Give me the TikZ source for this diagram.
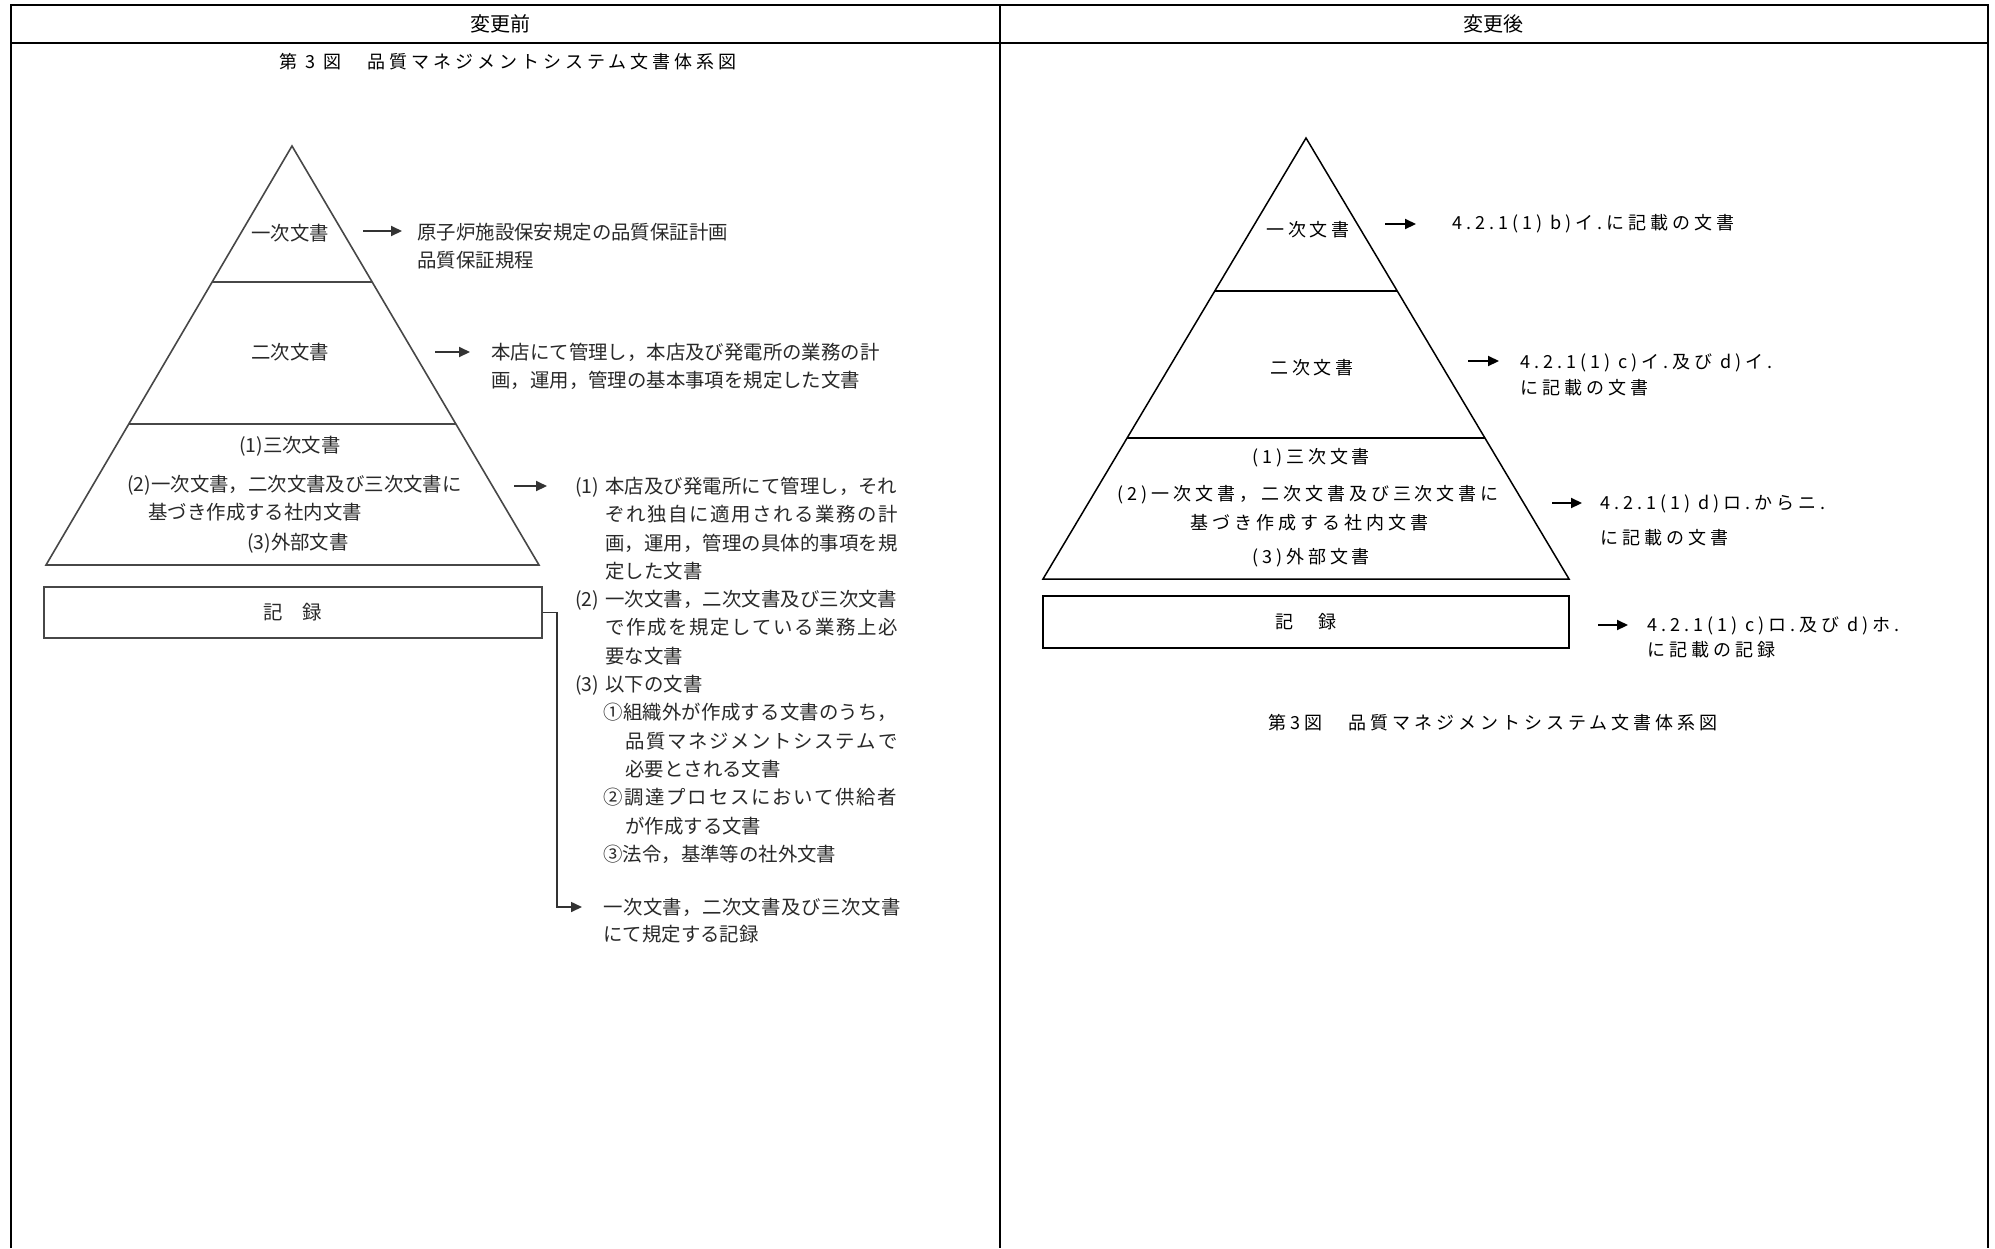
\documentclass[tikz,border=0pt]{standalone}
\usepackage{fontspec}
\usetikzlibrary{arrows.meta,calc}
\newfontfamily\jp{Noto Sans CJK JP}
\newfontfamily\jpls[LetterSpace=22]{Noto Sans CJK JP}
\colorlet{lg}{black!84}
\newcommand\twol[3]{\vtop{\baselineskip=#1\lineskiplimit=-20pt\hbox{#2}\hbox{#3}}}
\newcommand\jsetup{\parindent=0pt\parskip=0pt\XeTeXlinebreaklocale "ja"\XeTeXlinebreakskip=0pt plus 8pt\relax\tolerance=10000\rightskip=0pt\leftskip=0pt}
\begin{document}
\begin{tikzpicture}[x=0.5pt,y=-0.5pt,
  frame/.style={line width=1pt, black},
  lline/.style={line width=0.8pt, black!72},
  rline/.style={line width=0.75pt, black},
  ltxt/.style={inner sep=0pt, text=lg, font={\jp\fontsize{9.7}{14.15}\selectfont}},
  rtxt/.style={inner sep=0pt, font={\jpls\fontsize{9}{13}\selectfont}},
  htxt/.style={inner sep=0pt, font={\jp\fontsize{10}{12}\selectfont}},
  larr/.style={line width=1pt, black!80, -{Triangle[length=5.5pt,width=5pt]}},
  rarr/.style={line width=1pt, black, -{Triangle[length=5.5pt,width=5pt]}},
]
\fill[white] (0,0) rectangle (1995,1248);
\useasboundingbox (0,0) rectangle (1995,1248);
% table frame
\draw[frame] (10.7,1248) -- (10.7,5.3) -- (1987.7,5.3) -- (1987.7,1248);
\draw[frame] (10.7,43.3) -- (1987.7,43.3);
\draw[frame] (1000,5.3) -- (1000,1248);
\node[htxt] (h1) at (500,24) {変更前};
\node[htxt] (h2) at (1493,24) {変更後};

% ---------- left panel ----------
\node[rtxt] (lcap) at (508,62) {第 3 図　品質マネジメントシステム文書体系図};
\coordinate (LA) at (292,146);
\coordinate (LBL) at (46,565);
\coordinate (LBR) at (539,565);
\draw[lline] (LA) -- (LBL) -- (LBR) -- cycle;
\draw[lline] ($(LA)!0.3246!(LBL)$) -- ($(LA)!0.3246!(LBR)$);
\draw[lline] ($(LA)!0.6635!(LBL)$) -- ($(LA)!0.6635!(LBR)$);
\node[ltxt] (l1) at (290,233) {一次文書};
\node[ltxt] (l2) at (290,352) {二次文書};
\node[ltxt] (l3a) at (290,446) {(1)三次文書};
\node[ltxt, anchor=west] (l3b) at (127,485) {(2)一次文書，二次文書及び三次文書に};
\node[ltxt, anchor=west] (l3c) at (148,512) {基づき作成する社内文書};
\node[ltxt] (l3d) at (298,543) {(3)外部文書};
\node[ltxt, draw=black!72, line width=0.8pt, minimum width=249pt, minimum height=25.5pt] (lrec) at (293,612.5) {記　録};

\node[ltxt, anchor=base west] (ld1) at (417,239.4) {\twol{14pt}{原子炉施設保安規定の品質保証計画}{品質保証規程}};
\node[ltxt, anchor=base west] (ld2) at (491,359.4) {\twol{14pt}{本店にて管理し，本店及び発電所の業務の計}{画，運用，管理の基本事項を規定した文書}};
\node[ltxt, anchor=base west] (ld3) at (575,493.4) {\vtop{\hsize=161pt\jsetup
\hangindent=15pt\hangafter=1 \makebox[15pt][l]{(1)}本店及び発電所にて管理し，それ\linebreak ぞれ独自に適用される業務の計\linebreak 画，運用，管理の具体的事項を規\linebreak 定した文書\par
\hangindent=15pt\hangafter=1 \makebox[15pt][l]{(2)}一次文書，二次文書及び三次文書\linebreak で作成を規定している業務上必\linebreak 要な文書\par
\makebox[15pt][l]{(3)}以下の文書\par
\leftskip=14pt\hangindent=11pt\hangafter=1 ①組織外が作成する文書のうち，\linebreak 品質マネジメントシステムで\linebreak 必要とされる文書\par
\hangindent=11pt\hangafter=1 ②調達プロセスにおいて供給者\linebreak が作成する文書\par
③法令，基準等の社外文書\par}};
\node[ltxt, anchor=base west] (ld4) at (603,914.4) {\vtop{\hsize=148.5pt\jsetup\baselineskip=13.5pt
一次文書，二次文書及び三次文書\linebreak にて規定する記録\par}};

\coordinate (la1s) at (363,231); \coordinate (la1e) at (402,231);
\coordinate (la2s) at (435,352); \coordinate (la2e) at (470,352);
\coordinate (la3s) at (514,486); \coordinate (la3e) at (547,486);
\coordinate (lbend) at (557,907); \coordinate (la4e) at (582,907);
\draw[larr] (la1s) -- (la1e);
\draw[larr] (la2s) -- (la2e);
\draw[larr] (la3s) -- (la3e);
\draw[larr, line width=0.8pt] (lrec.east) -| (lbend) -- (la4e);

% ---------- right panel ----------
\coordinate (RA) at (1306,138);
\coordinate (RBL) at (1043,579);
\coordinate (RBR) at (1569,579);
\draw[rline] (RA) -- (RBL) -- (RBR) -- cycle;
\draw[rline] ($(RA)!0.3469!(RBL)$) -- ($(RA)!0.3469!(RBR)$);
\draw[rline] ($(RA)!0.6803!(RBL)$) -- ($(RA)!0.6803!(RBR)$);
\node[rtxt] (r1) at (1308,230) {一次文書};
\node[rtxt] (r2) at (1312,368) {二次文書};
\node[rtxt] (r3a) at (1311,458) {(1)三次文書};
\node[rtxt, anchor=west] (r3b) at (1117,495) {(2)一次文書，二次文書及び三次文書に};
\node[rtxt, anchor=west] (r3c) at (1190,523) {基づき作成する社内文書};
\node[rtxt] (r3d) at (1311,558) {(3)外部文書};
\node[rtxt, draw, line width=1pt, minimum width=263pt, minimum height=26pt] (rrec) at (1306,622) {記　録};

\node[rtxt, anchor=west] (rd1) at (1452,224) {4.2.1(1) b)イ.に記載の文書};
\node[rtxt, anchor=base west] (rd2) at (1520,368.8) {\twol{13pt}{4.2.1(1) c)イ.及び d)イ.}{に記載の文書}};
\node[rtxt, anchor=base west] (rd3) at (1600,509.8) {\twol{17.5pt}{4.2.1(1) d)ロ.からニ.}{に記載の文書}};
\node[rtxt, anchor=base west] (rd4) at (1647,631.8) {\twol{12.5pt}{4.2.1(1) c)ロ.及び d)ホ.}{に記載の記録}};
\node[rtxt] (rcap) at (1493,723) {第3図　品質マネジメントシステム文書体系図};

\coordinate (ra1s) at (1385,224); \coordinate (ra1e) at (1416,224);
\coordinate (ra2s) at (1468,361); \coordinate (ra2e) at (1499,361);
\coordinate (ra3s) at (1552,503); \coordinate (ra3e) at (1582,503);
\coordinate (ra4s) at (1598,625); \coordinate (ra4e) at (1628,625);
\draw[rarr] (ra1s) -- (ra1e);
\draw[rarr] (ra2s) -- (ra2e);
\draw[rarr] (ra3s) -- (ra3e);
\draw[rarr] (ra4s) -- (ra4e);
\end{tikzpicture}
\end{document}
